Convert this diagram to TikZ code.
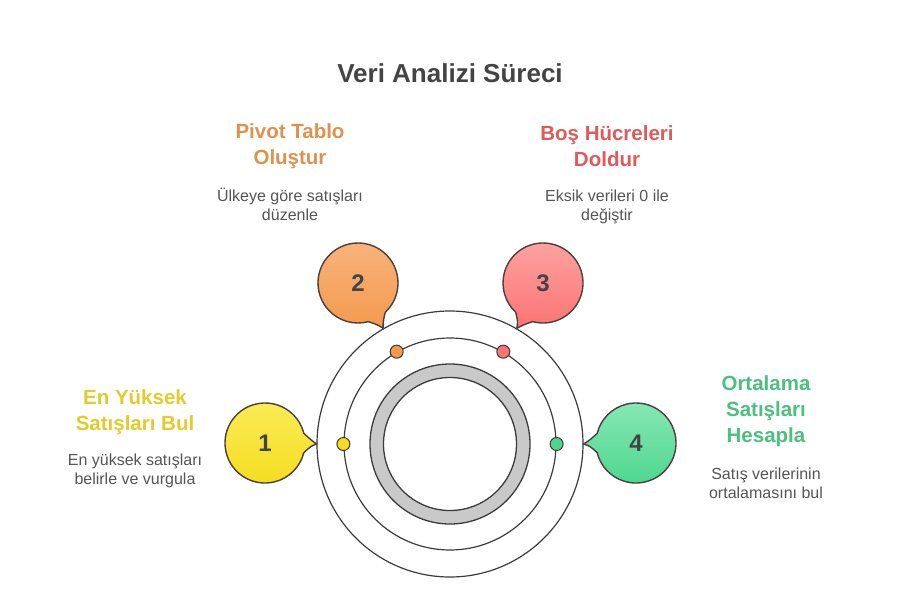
\documentclass[tikz,border=0pt]{standalone}
\usepackage{fontspec}
\setmainfont{Liberation Sans}
\usepackage{xcolor}
\usetikzlibrary{positioning, calc}

\definecolor{titleG}{HTML}{444444}
\definecolor{descG}{HTML}{555555}
\definecolor{lineG}{HTML}{3C3C3C}
\definecolor{lineB}{HTML}{4A3F3F}
\definecolor{ringG}{HTML}{C9C9C9}
\definecolor{yelT}{HTML}{FAEC58}
\definecolor{yelB}{HTML}{F5DC1E}
\definecolor{yelH}{HTML}{E2CB2A}
\definecolor{oraT}{HTML}{F9B47C}
\definecolor{oraB}{HTML}{F39A4E}
\definecolor{oraH}{HTML}{E0914E}
\definecolor{redT}{HTML}{FFA3A3}
\definecolor{redB}{HTML}{FA7474}
\definecolor{redH}{HTML}{E05A5A}
\definecolor{grnT}{HTML}{88E8B5}
\definecolor{grnB}{HTML}{4DD68E}
\definecolor{grnH}{HTML}{4CC07F}

\begin{document}
\begin{tikzpicture}[x=1pt, y=-1pt]
	\tikzset{
		ring/.style={draw=lineG, line width=1.2pt, circle, inner sep=0pt},
		dot/.style={circle, draw=lineG, line width=1pt, inner sep=0pt, minimum size=13pt},
		bubble/.style={draw=lineB, line width=1.4pt},
		num/.style={font=\bfseries\fontsize{24}{28}\selectfont, text=titleG},
		head/.style={font=\bfseries\fontsize{20.5}{26}\selectfont, align=center, inner sep=0pt},
		desc/.style={font=\fontsize{16}{19}\selectfont, text=descG, align=center, inner sep=0pt},
	}
	\useasboundingbox (0,0) rectangle (900,600);
	\fill[white] (0,0) rectangle (900,600);

	%title
	\node (title) [font=\bfseries\fontsize{26}{30}\selectfont, text=titleG] at (450,73) {Veri Analizi Süreci};

	%rings
	\coordinate (c) at (450,444);
	\node (outer) [ring, minimum size=266pt] at (c) {};
	\node (mid) [ring, minimum size=212pt] at (c) {};
	\draw[lineG, line width=1.3pt, fill=ringG, even odd rule] (c) circle[radius=80] (c) circle[radius=66.5];

	%dots on the middle ring
	\node (d1) [dot, fill=yelB] at (mid.180) {};
	\node (d2) [dot, fill=oraB] at (mid.120) {};
	\node (d3) [dot, fill=redB] at (mid.60) {};
	\node (d4) [dot, fill=grnB] at (mid.0) {};

	%bubbles
	\coordinate (c1) at (265,443);
	\coordinate (c2) at (358,283);
	\coordinate (c3) at (543,283);
	\coordinate (c4) at (636,443);
	\path[bubble, top color=yelT, bottom color=yelB] ($(c1)+(14:40pt)$) arc[start angle=14, end angle=346, radius=40pt]
		.. controls ($(c1)+(-4:46pt)$) .. (outer.180) .. controls ($(c1)+(4:46pt)$) .. cycle;
	\path[bubble, top color=oraT, bottom color=oraB] ($(c2)+(-47:40pt)$) arc[start angle=-47, end angle=285, radius=40pt]
		.. controls ($(c2)+(-65:46pt)$) .. (outer.120) .. controls ($(c2)+(-57:46pt)$) .. cycle;
	\path[bubble, top color=redT, bottom color=redB] ($(c3)+(-105:40pt)$) arc[start angle=-105, end angle=227, radius=40pt]
		.. controls ($(c3)+(-123:46pt)$) .. (outer.60) .. controls ($(c3)+(-115:46pt)$) .. cycle;
	\path[bubble, top color=grnT, bottom color=grnB] ($(c4)+(194:40pt)$) arc[start angle=194, end angle=526, radius=40pt]
		.. controls ($(c4)+(176:46pt)$) .. (outer.0) .. controls ($(c4)+(184:46pt)$) .. cycle;
	\node (b1) [num] at (c1) {1};
	\node (b2) [num] at (c2) {2};
	\node (b3) [num] at (c3) {3};
	\node (b4) [num] at (c4) {4};

	%labels
	\node (h1) [head, text=yelH] at (135,412) {En Yüksek\\Satışları Bul};
	\node (t1) [desc, below=19pt of h1] {En yüksek satışları\\belirle ve vurgula};
	\node (h2) [head, text=oraH] at (290,146) {Pivot Tablo\\Oluştur};
	\node (t2) [desc, below=19pt of h2] {Ülkeye göre satışları\\düzenle};
	\node (h3) [head, text=redH] at (607,146) {Boş Hücreleri\\Doldur};
	\node (t3) [desc, below=23pt of h3] {Eksik verileri 0 ile\\değiştir};
	\node (h4) [head, text=grnH] at (766,411) {Ortalama\\Satışları\\Hesapla};
	\node (t4) [desc, below=21pt of h4] {Satış verilerinin\\ortalamasını bul};
\end{tikzpicture}
\end{document}
